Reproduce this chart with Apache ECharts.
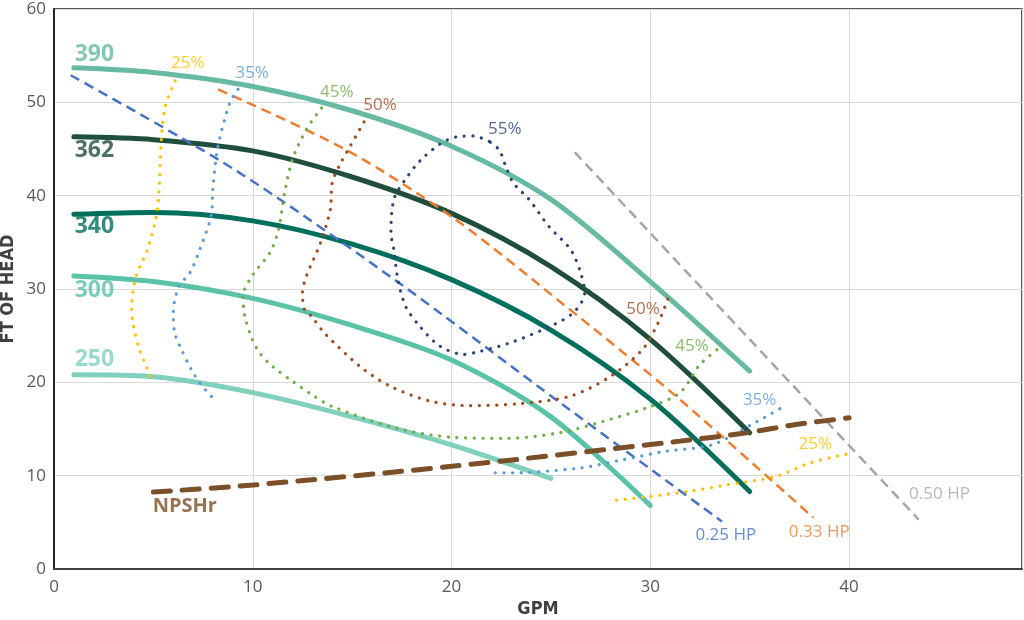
<!DOCTYPE html>
<html>
<head>
<meta charset="utf-8">
<script src="https://cdn.jsdelivr.net/npm/echarts@6/dist/echarts.min.js"></script>
<style>
html, body { margin: 0; padding: 0; background: #fff; }
#chart { width: 1024px; height: 620px; }
</style>
</head>
<body>
<div id="chart"></div>
<script>
// impeller curves (GPM, ft)
var imp390 = [[1,53.7],[5,53.2],[10,51.7],[15,49.1],[20,45.3],[25,39.6],[30,30.8],[35,21.2]];
var imp362 = [[1,46.3],[5,46.0],[10,44.8],[15,42.0],[20,38.1],[25,32.4],[30,24.6],[35,14.6]];
var imp340 = [[1,38.0],[5,38.2],[10,37.3],[15,34.8],[20,31.0],[25,25.6],[30,18.2],[35,8.3]];
var imp300 = [[1,31.4],[5,30.8],[10,29.0],[15,26.1],[20,22.4],[25,16.3],[30,6.8]];
var imp250 = [[1,20.8],[5,20.6],[10,18.9],[15,16.3],[20,13.3],[25,9.7]];
var impNames = ['390', '362', '340', '300', '250'];
var impLabelPos = [[1.04,55.1],[1.04,44.8],[1.04,36.7],[1.04,29.8],[1.04,22.4]];

// efficiency curves
var eff25a = [[6.1,52.3],[5.6,49.6],[5.4,46.0],[5.2,38.5],[4.7,34.2],[4.15,31.5],[3.9,28.0],[4.0,26.0],[4.3,23.5],[4.65,21.7],[4.95,20.0]];
var eff25b = [[28.3,7.35],[29.7,7.7],[31.9,8.3],[33.8,9.0],[36.3,9.9],[38.1,11.4],[40.1,12.4]];
var eff35a = [[9.26,51.4],[8.84,49.9],[8.25,45.3],[8.0,41.0],[7.9,37.8],[7.33,34.2],[6.83,31.7],[6.28,30.3],[6.0,27.4],[6.07,25.3],[6.33,23.9],[6.9,21.4],[7.4,19.75],[8.0,18.3]];
var eff35b = [[22.2,10.3],[23.0,10.3],[26.4,10.8],[28.6,11.7],[30.75,12.6],[33.1,13.3],[35.2,15.6],[36.7,17.4]];
var eff45 = [[13.46,49.4],[12.7,47.1],[12.0,43.9],[11.6,40.3],[11.3,36.4],[10.86,33.9],[10.0,31.5],[9.5,29.2],[9.6,27.1],[9.96,24.65],[10.4,23.0],[11.0,21.7],[12.0,20.1],[13.1,18.5],[14.0,17.4],[17.2,15.1],[20.1,14.1],[22.8,14.0],[25.45,14.6],[27.6,15.8],[30.0,17.4],[31.5,18.9],[32.5,21.9],[33.6,23.9]];
var eff50 = [[15.6,47.9],[14.9,45.3],[14.4,43.4],[14.0,41.4],[13.9,38.5],[13.4,34.9],[12.7,31.4],[12.5,29.6],[12.6,27.8],[12.95,27.1],[13.6,25.3],[15.4,21.7],[16.9,19.6],[18.9,18.0],[20.9,17.5],[23.3,17.7],[25.95,18.5],[27.97,20.6],[29.6,23.5],[30.4,26.4],[30.9,29.05]];
var eff55 = [[21.9,45.8],[21.1,46.4],[20.25,46.3],[19.4,45.5],[18.4,43.7],[17.6,41.5],[17.1,39.6],[16.95,36.0],[17.1,34.2],[17.3,31.0],[17.7,28.1],[18.4,26.0],[19.4,23.9],[20.6,23.0],[21.4,23.3],[22.9,24.2],[24.6,25.65],[26.1,27.4],[26.7,29.6],[26.5,31.7],[26.0,34.2],[24.9,36.7],[23.9,39.6],[23.1,41.4],[22.7,43.3],[22.4,44.9],[21.9,45.8]];
var effNames = ['25%', '35%', '45%', '50%', '55%', '50%', '45%', '35%', '25%'];
var effLabelPos = [[6.73,54.2],[9.97,53.1],[14.23,51.1],[16.4,49.65],[22.68,47.1],[29.63,27.8],[32.1,23.9],[35.5,18.1],[38.3,13.4]];

// horsepower lines
var hp025 = [[0.84,52.9],[9,42.9],[17,31.2],[25.6,17.6],[33.6,5.1]];
var hp033 = [[8.25,51.4],[14.7,44.9],[20.1,37.6],[25.6,28.4],[31.3,18.5],[38.2,5.5]];
var hp050 = [[26.2,44.65],[35,24.6],[43.5,5.3]];
var hpNames = ['0.25 HP', '0.33 HP', '0.50 HP'];
var hpLabelPos = [[33.8,3.6],[38.5,3.95],[44.55,8.0]];

// NPSHr
var npshr = [[5,8.25],[10,9.0],[20,11.0],[31.5,13.7],[34.85,14.6],[37.4,15.5],[40,16.2]];
var npshrLabelPos = [6.58, 6.73];

var impColors = ['#66b9a3', '#1f4e3d', '#006f5c', '#5ac3a7', '#80d0be'];
var effColors = { '25%': '#ffc000', '35%': '#5b9bd5', '45%': '#70ad47', '50%': '#9e4c1f', '55%': '#2a4476' };
var hpColors = ['#4472c4', '#ed7d31', '#a5a5a5'];
var npColor = '#7b5028';
var font = '"Open Sans", "Noto Sans", sans-serif';
var nameFont = '"DejaVu Sans Condensed", "Liberation Sans Narrow", sans-serif';

function curve(data, color, width, dash, cap, z, smooth) {
	return {
		type: 'line', data: data, smooth: smooth, symbol: 'none', silent: true, z: z,
		lineStyle: { color: color, width: width, type: dash, cap: cap }
	};
}
function textSeries(pos, text, color, size, weight, position) {
	return {
		type: 'scatter', symbolSize: 0, silent: true, z: 10,
		data: [{ value: pos, name: text }],
		label: {
			show: true, position: position || 'inside', distance: 0,
			formatter: '{b}', color: color, fontSize: size, fontWeight: weight, fontFamily: font
		}
	};
}

var series = [];
[imp390, imp362, imp340, imp300, imp250].forEach(function (d, i) {
	series.push(curve(d, impColors[i], 5, 'solid', 'round', 2, 0.3));
	series.push(textSeries(impLabelPos[i], impNames[i], impColors[i], 23, 'bold', 'right'));
});
[hp025, hp033, hp050].forEach(function (d, i) {
	series.push(curve(d, hpColors[i], 2.5, [10, 6], 'butt', 3, 0.3));
	series.push(textSeries(hpLabelPos[i], hpNames[i], hpColors[i], 17, 'normal'));
});
var dot = [0.1, 8.6];
[eff25a, eff25b].forEach(function (d) { series.push(curve(d, effColors['25%'], 3.2, dot, 'round', 4, 0.3)); });
[eff35a, eff35b].forEach(function (d) { series.push(curve(d, effColors['35%'], 3.2, dot, 'round', 4, 0.3)); });
series.push(curve(eff45, effColors['45%'], 3.2, dot, 'round', 4, 0.3));
series.push(curve(eff50, effColors['50%'], 3.2, dot, 'round', 4, 0.3));
series.push(curve(eff55, effColors['55%'], 3.2, dot, 'round', 4, 0.3));
effNames.forEach(function (n, i) {
	series.push(textSeries(effLabelPos[i], n, effColors[n], 17, 'normal'));
});
series.push(curve(npshr, npColor, 5, [17, 12], 'round', 5, 0.3));
series.push(textSeries(npshrLabelPos, 'NPSHr', npColor, 20, 'bold'));

var chart = echarts.init(document.getElementById('chart'));
chart.setOption({
	animation: false,
	grid: {
		left: 54, right: 2, top: 9, bottom: 51, outerBoundsMode: 'none', containLabel: false,
		show: true, borderColor: '#262626', borderWidth: 1.5
	},
	xAxis: {
		type: 'value', min: 0, max: 48.7, interval: 10,
		name: 'GPM', nameLocation: 'middle', nameGap: 31, nameMoveOverlap: false,
		nameTextStyle: { color: '#404040', fontSize: 18, fontWeight: 'bold', fontFamily: nameFont },
		axisLine: { lineStyle: { color: '#404040', width: 2 } },
		axisTick: { show: false },
		axisLabel: { color: '#595959', fontSize: 17, fontFamily: font, margin: 10, showMaxLabel: false },
		splitLine: { lineStyle: { color: '#d9d9d9', width: 1 } }
	},
	yAxis: {
		type: 'value', min: 0, max: 60, interval: 10,
		name: 'FT OF HEAD', nameLocation: 'middle', nameGap: 37, nameMoveOverlap: false,
		nameTextStyle: { color: '#404040', fontSize: 18, fontWeight: 'bold', fontFamily: nameFont },
		axisLine: { show: true, lineStyle: { color: '#262626', width: 2 } },
		axisTick: { show: false },
		axisLabel: { color: '#595959', fontSize: 17, fontFamily: font, margin: 8 },
		splitLine: { lineStyle: { color: '#d9d9d9', width: 1 } }
	},
	series: series
});
</script>
</body>
</html>
